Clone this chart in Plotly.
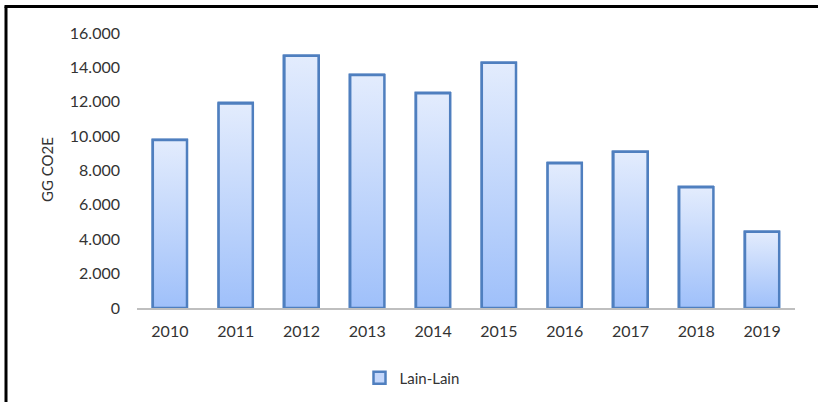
import plotly.graph_objects as go

# Emissions of the "Lain-Lain" category per year (Gg CO2e)
years = ["2010", "2011", "2012", "2013", "2014", "2015", "2016", "2017", "2018", "2019"]
values = [9770, 11900, 14680, 13550, 12490, 14270, 8420, 9090, 7020, 4440]
y_ticks = [0, 2000, 4000, 6000, 8000, 10000, 12000, 14000, 16000]

series_name = "Lain-Lain"
axis_title = "GG CO2E"

BAR_W = 0.52
EDGE = "#4F7FBF"
TOP = "#E3ECFD"
BOTTOM = "#9FC0FA"
FONT = "Lato"
TEXT = "#333333"

W, H = 818, 402
ML, MR, MT, MB = 137, 23, 33, 94
PW, PH = W - ML - MR, H - MT - MB

fig = go.Figure()

# Base bar trace (also provides the legend entry)
idx = list(range(len(years)))
fig.add_trace(go.Bar(
    x=idx, y=values, width=BAR_W, name=series_name,
    marker=dict(color="#C4D7FB", line=dict(color=EDGE, width=2.5)),
    showlegend=True,
))

# Vertical gradient fill for every bar, built from the same values
for i, v in zip(idx, values):
    x0, x1 = i - BAR_W / 2, i + BAR_W / 2
    fig.add_trace(go.Scatter(
        x=[x0, x0, x1, x1, x0], y=[0, v, v, 0, 0],
        mode="lines", fill="toself",
        fillgradient=dict(type="vertical", start=0, stop=v,
                          colorscale=[[0, BOTTOM], [1, TOP]]),
        line=dict(color=EDGE, width=2.5),
        showlegend=False, hoverinfo="skip",
    ))

def px_x(p):
    return (p - ML) / PW

def px_y(p):
    return (MT + PH - p) / PH

# Chart frame lines (left and top edges)
fig.add_shape(type="line", xref="paper", yref="paper",
              x0=px_x(6), x1=px_x(6), y0=px_y(H + 5), y1=px_y(6.5),
              line=dict(color="black", width=3))
fig.add_shape(type="line", xref="paper", yref="paper",
              x0=px_x(4.5), x1=px_x(W + 5), y0=px_y(6.5), y1=px_y(6.5),
              line=dict(color="black", width=3))

fig.add_annotation(
    text=axis_title, xref="paper", yref="paper",
    x=px_x(47), y=px_y(170), textangle=-90, showarrow=False,
    font=dict(family=FONT, size=15, color=TEXT),
    xanchor="center", yanchor="middle",
)

fig.update_layout(
    width=W, height=H,
    margin=dict(l=ML, r=MR, t=MT, b=MB, autoexpand=False),
    paper_bgcolor="white", plot_bgcolor="white",
    separators=",.",
    font=dict(family=FONT, size=16, color=TEXT),
    bargap=0,
    legend=dict(
        orientation="h", xref="container", yref="container",
        x=412 / W, y=1 - 378 / H,
        xanchor="center", yanchor="middle",
        font=dict(family=FONT, size=15, color=TEXT),
        itemwidth=30,
    ),
    xaxis=dict(
        range=[-0.5, len(years) - 0.5],
        tickmode="array", tickvals=idx, ticktext=years,
        showgrid=False, zeroline=False,
        showline=True, linecolor="#BFBFBF", linewidth=2,
        ticks="", ticklabelstandoff=8,
        fixedrange=True,
    ),
    yaxis=dict(
        range=[0, 16000],
        tickmode="array", tickvals=y_ticks, tickformat=",d",
        showgrid=False, zeroline=False, showline=False,
        ticks="", ticklabelstandoff=16,
        fixedrange=True,
    ),
)

fig.write_html("out.html")
